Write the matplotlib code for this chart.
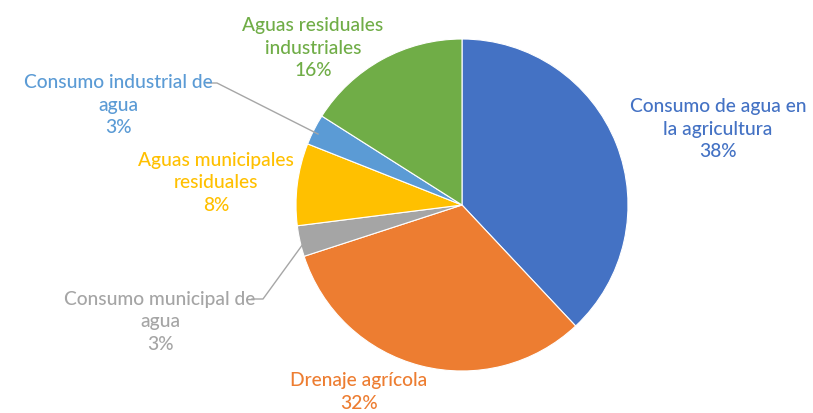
import matplotlib
matplotlib.use("Agg")
import matplotlib.pyplot as plt

categories = ["Consumo de agua en\nla agricultura", "Drenaje agrícola",
              "Consumo municipal de\nagua", "Aguas municipales\nresiduales",
              "Consumo industrial de\nagua", "Aguas residuales\nindustriales"]
values = [38, 32, 3, 8, 3, 16]
colors = ["#4472C4", "#ED7D31", "#A5A5A5", "#FFC000", "#5B9BD5", "#70AD47"]

W, H = 813, 414
cx, cy, r = 462, 206, 166
fig = plt.figure(figsize=(W / 100, H / 100), dpi=100)
ax = fig.add_axes([(cx - r) / W, (H - cy - r) / H, 2 * r / W, 2 * r / H])
ax.pie(values, colors=colors, startangle=90, counterclock=False, radius=1,
       wedgeprops=dict(edgecolor="white", linewidth=0.8))
ax.set_xlim(-1, 1)
ax.set_ylim(-1, 1)
ax.set_aspect("equal")
ax.axis("off")

def d(px, py):
    return (px - cx) / r, (cy - py) / r

label_px = [(718, 129), (359, 392), (160, 322), (216, 183), (118, 105), (313, 48)]
for cat, v, col, (px, py) in zip(categories, values, colors, label_px):
    x, y = d(px, py)
    ax.text(x, y, f"{cat}\n{v}%", color=col, ha="center", va="center",
            fontsize=13.8, family="Lato", weight="medium", linespacing=1.42,
            clip_on=False)

# leader lines
for pts in ([(207, 84), (217, 84), (318, 135)], [(252, 300), (263, 300), (303, 245)]):
    xs, ys = zip(*[d(*p) for p in pts])
    ax.plot(xs, ys, color="#A6A6A6", lw=1, clip_on=False)

fig.savefig("out.png", dpi=100)
